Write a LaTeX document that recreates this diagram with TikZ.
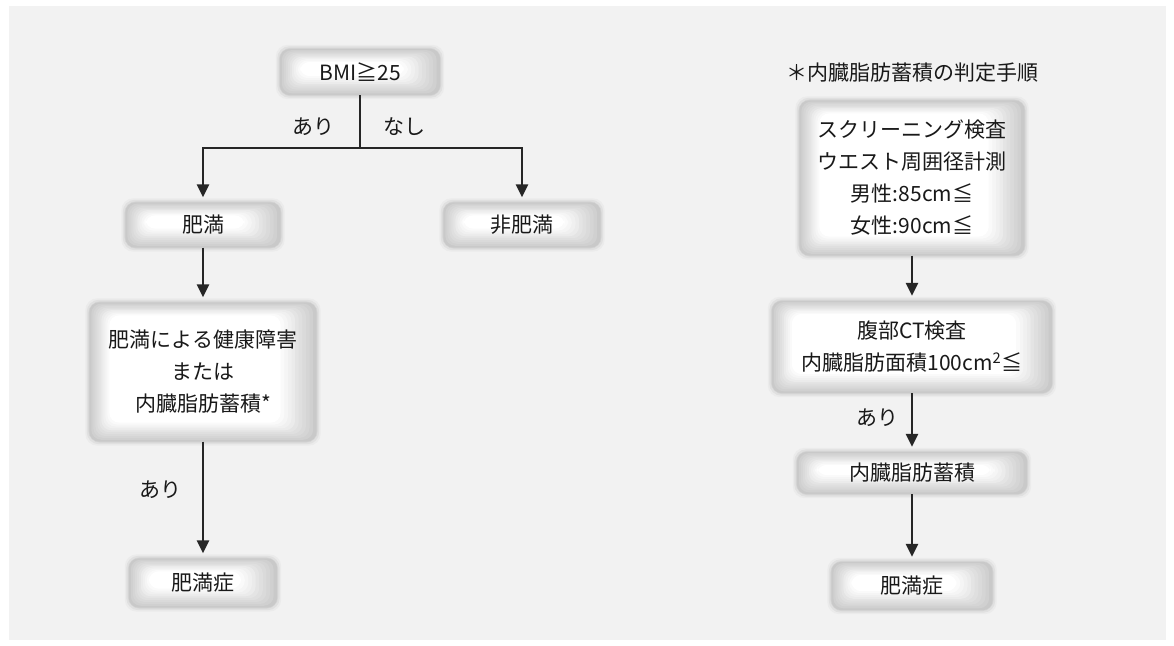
\documentclass[tikz,border=0pt]{standalone}
\usepackage{fontspec}
\setmainfont{Noto Sans CJK JP}
\usetikzlibrary{arrows.meta,backgrounds}
\tikzset{
  card/.style={align=center, inner sep=0pt, text=black!90},
  lbl/.style={inner sep=0pt, text=black!90},
  arr/.style={line width=2.6pt, black!85, -{Triangle[width=12pt,length=13pt]}, shorten >=5pt},
  ln/.style={line width=2.6pt, black!85},
}
\newcommand\fuzz[1]{%
  \begin{scope}[on background layer]
    \foreach \o/\c in {4/16,2.5/24,1/33} {
      \fill[gray!\c, rounded corners=12pt] ([shift={(-\o,-\o)}]#1.north west) rectangle ([shift={(\o,\o)}]#1.south east);
    }
    \foreach \i in {0,...,10} {
      \pgfmathtruncatemacro\c{42-4.2*\i}
      \fill[gray!\c, rounded corners=10pt] ([shift={({2.0*\i},{1.3*\i})}]#1.north west) rectangle ([shift={({-3.6*\i},{-1.9*\i})}]#1.south east);
    }
  \end{scope}}
\begin{document}
\begin{tikzpicture}[x=1pt,y=-1pt,font=\fontsize{21}{32}\selectfont]
\useasboundingbox (0,0) rectangle (1174,645);
\begin{scope}[on background layer]
  \fill[white] (0,0) rectangle (1174,645);
  \fill[gray!10] (9,6) rectangle (1166,640);
\end{scope}

% left flow
\node[card, minimum width=160pt, minimum height=46pt] (bmi) at (360,72) {BMI≧25};
\node[card, minimum width=155pt, minimum height=45pt] (himan) at (203,225) {肥満};
\node[card, minimum width=157pt, minimum height=45pt] (hihiman) at (522,225) {非肥満};
\node[card, minimum width=227pt, minimum height=139pt] (kenko) at (203,372) {肥満による健康障害\\または\\内臓脂肪蓄積*};
\node[card, minimum width=148pt, minimum height=49pt] (shouL) at (203,583) {肥満症};
\fuzz{bmi}\fuzz{himan}\fuzz{hihiman}\fuzz{kenko}\fuzz{shouL}

\coordinate (j) at (360,148);
\draw[ln] (bmi.south) -- (j);
\draw[arr] (j) -| (himan.north);
\draw[arr] (j) -| (hihiman.north);
\draw[arr] (himan.south) -- (kenko.north);
\draw[arr] (kenko.south) -- (shouL.north);
\node[lbl] (ari1) at (313,127) {あり};
\node[lbl] (nashi) at (404,127) {なし};
\node[lbl] (ari2) at (160,490) {あり};

% right flow
\node[lbl] (title) at (912,73) {＊内臓脂肪蓄積の判定手順};
\node[card, minimum width=225pt, minimum height=155pt] (scr) at (912,178) {スクリーニング検査\\ウエスト周囲径計測\\男性:85cm≦\\女性:90cm≦};
\node[card, minimum width=280pt, minimum height=92pt] (ct) at (912,347) {腹部CT検査\\内臓脂肪面積100cm\textsuperscript{2}≦};
\node[card, minimum width=230pt, minimum height=42pt] (naizo) at (912,473) {内臓脂肪蓄積};
\node[card, minimum width=161pt, minimum height=48pt] (shouR) at (912,586) {肥満症};
\fuzz{scr}\fuzz{ct}\fuzz{naizo}\fuzz{shouR}

\draw[arr] (scr.south) -- (ct.north);
\draw[arr] (ct.south) -- (naizo.north);
\draw[arr] (naizo.south) -- (shouR.north);
\node[lbl] (ari3) at (877,418) {あり};
\end{tikzpicture}
\end{document}
